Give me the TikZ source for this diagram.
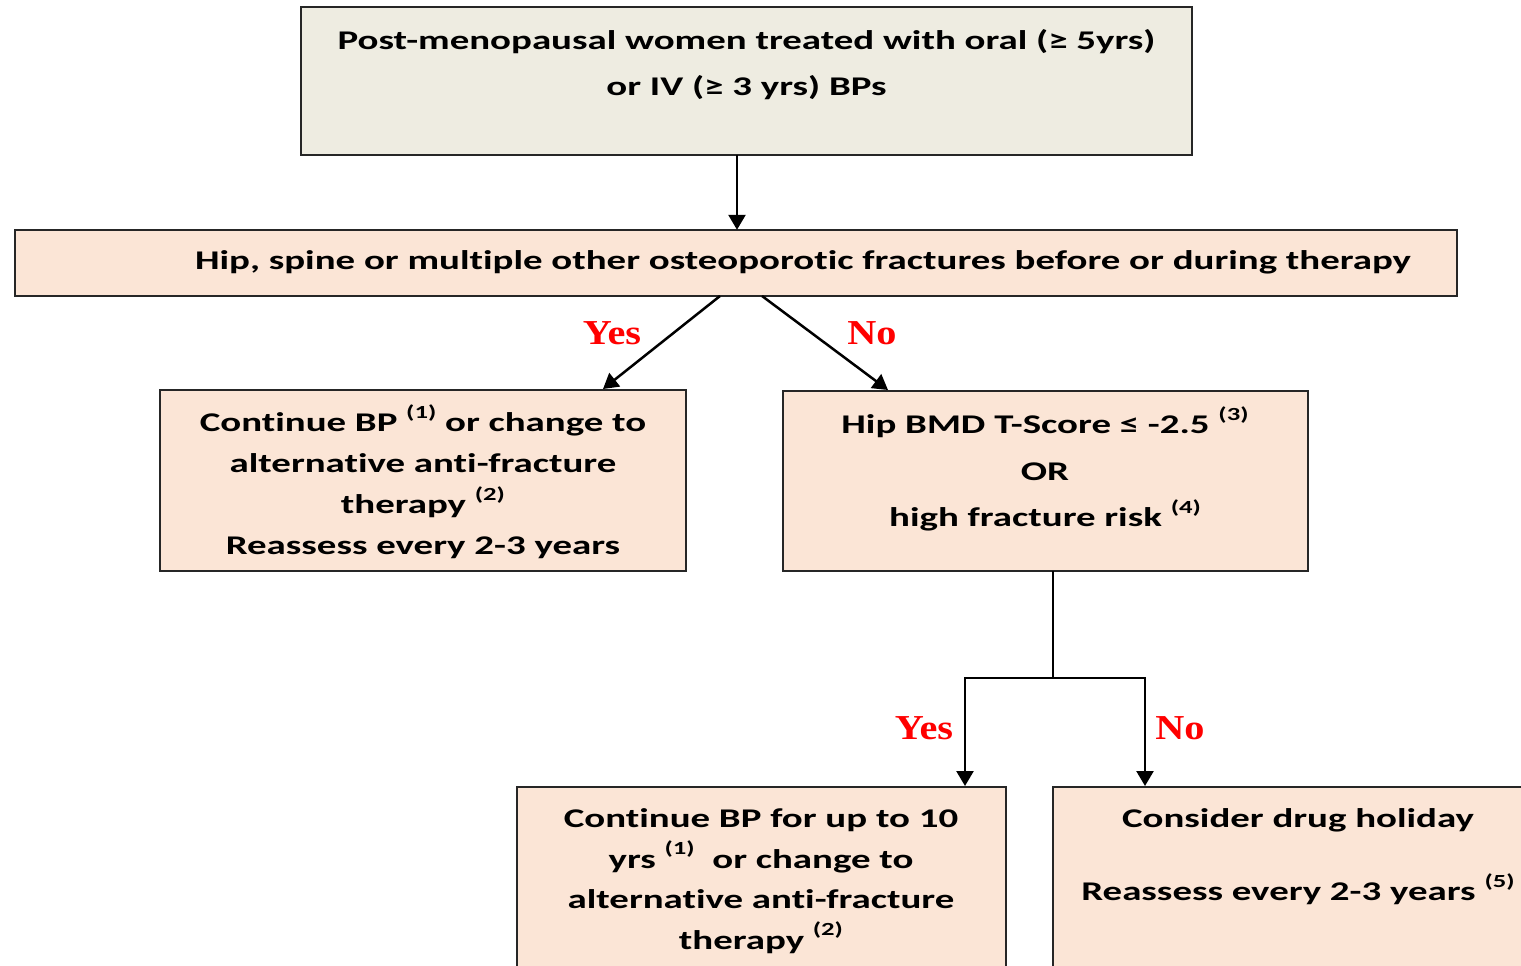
\documentclass[tikz,border=0pt]{standalone}
\usepackage{fontspec}
\setmainfont{Carlito}[FakeStretch=1.44, Ligatures={NoCommon}]
\newfontfamily\lblfont{Liberation Serif}[FakeStretch=1.15]
\usetikzlibrary{arrows.meta}
\definecolor{tanbg}{HTML}{EEECE1}
\definecolor{peach}{HTML}{FBE5D6}
\definecolor{edgegray}{HTML}{262626}
\newcommand{\supref}[1]{\raisebox{0.5em}{\fontsize{18.5}{18.5}\selectfont #1}}
\tikzset{
  boxshape/.style={draw=edgegray, line width=2pt, fill=peach, inner sep=0pt},
  boxtext/.style={font=\fontsize{27}{27}\bfseries\selectfont, align=center, inner sep=0pt, text=black},
  yesno/.style={font=\fontsize{35}{35}\lblfont\bfseries\selectfont, text=red, inner sep=0pt},
  conn/.style={line width=2.5pt, draw=black},
  arr/.style={conn, -{Triangle[length=15pt,width=17pt]}, shorten >=0pt}
}
\begin{document}
\begin{tikzpicture}[x=1pt,y=-1pt]
\useasboundingbox (0,0) rectangle (1521,966);
\clip (0,0) rectangle (1521,966);
\fill[white] (0,0) rectangle (1521,966);
% boxes
\path[boxshape, fill=tanbg] (301,7) rectangle (1192,155);
\node[inner sep=0pt, minimum width=891pt, minimum height=148pt] (top) at (746.5,81) {};
\path[boxshape] (15,230) rectangle (1457,296);
\node[inner sep=0pt, minimum width=1442pt, minimum height=66pt] (hip) at (736,263) {};
\path[boxshape] (160,390) rectangle (686,571);
\node[inner sep=0pt, minimum width=526pt, minimum height=181pt] (left) at (423,480.5) {};
\path[boxshape] (783,391) rectangle (1308,571);
\node[inner sep=0pt, minimum width=525pt, minimum height=180pt] (right) at (1045.5,481) {};
\path[boxshape] (517,787) rectangle (1006,1100);
\node[inner sep=0pt, minimum width=489pt, minimum height=313pt] (bl) at (761.5,943.5) {};
\path[boxshape] (1053,787) rectangle (1700,1100);
\node[inner sep=0pt, minimum width=647pt, minimum height=313pt] (br) at (1376.5,943.5) {};
% texts
\node[boxtext, font=\fontsize{27}{46}\bfseries\selectfont] (toptxt) at (746.5,65)
  {Post-menopausal women treated with oral (≥ 5yrs)\\or IV (≥ 3 yrs) BPs};
\node[boxtext] (hiptxt) at (803,262)
  {Hip, spine or multiple other osteoporotic fractures before or during therapy};
\node[boxtext, font=\fontsize{27}{41}\bfseries\selectfont] (lefttxt) at (423,482)
  {Continue BP \supref{(1)} or change to\\alternative anti-fracture\\therapy \supref{(2)}\\Reassess every 2-3 years};
\node[boxtext, font=\fontsize{27}{46.5}\bfseries\selectfont] (righttxt) at (1045,469)
  {Hip BMD T-Score ≤ -2.5 \supref{(3)}\\OR\\high fracture risk \supref{(4)}};
\node[boxtext, font=\fontsize{27}{40.5}\bfseries\selectfont] (bltxt) at (761,881)
  {Continue BP for up to 10\\yrs \supref{(1)}\ \ or change to\\alternative anti-fracture\\therapy \supref{(2)}};
\node[boxtext, font=\fontsize{27}{73}\bfseries\selectfont] (brtxt) at (1298,857)
  {Consider drug holiday\\Reassess every 2-3 years \supref{(5)}};
% connectors
\coordinate (c1) at (737,155);
\coordinate (c2) at (737,229);
\draw[arr] (top.south -| c1) -- (hip.north -| c2);
\coordinate (h1) at (720,296);
\coordinate (l1) at (603,389);
\draw[arr] (h1) -- (l1);
\coordinate (h2) at (762,296);
\coordinate (r1) at (888,390);
\draw[arr] (h2) -- (r1);
\coordinate (s0) at (1053,571);
\coordinate (s1) at (1053,678);
\coordinate (sl) at (965,678);
\coordinate (sr) at (1145,678);
\coordinate (el) at (965,786);
\coordinate (er) at (1145,786);
\draw[conn] (s0) -- (s1);
\draw[conn, line cap=rect] (sl) -- (sr);
\draw[arr] (sl) -- (el);
\draw[arr] (sr) -- (er);
% labels
\node[yesno] (yes1) at (612,333) {Yes};
\node[yesno] (no1) at (872,333) {No};
\node[yesno] (yes2) at (924,728) {Yes};
\node[yesno] (no2) at (1180,728) {No};
\end{tikzpicture}
\end{document}
